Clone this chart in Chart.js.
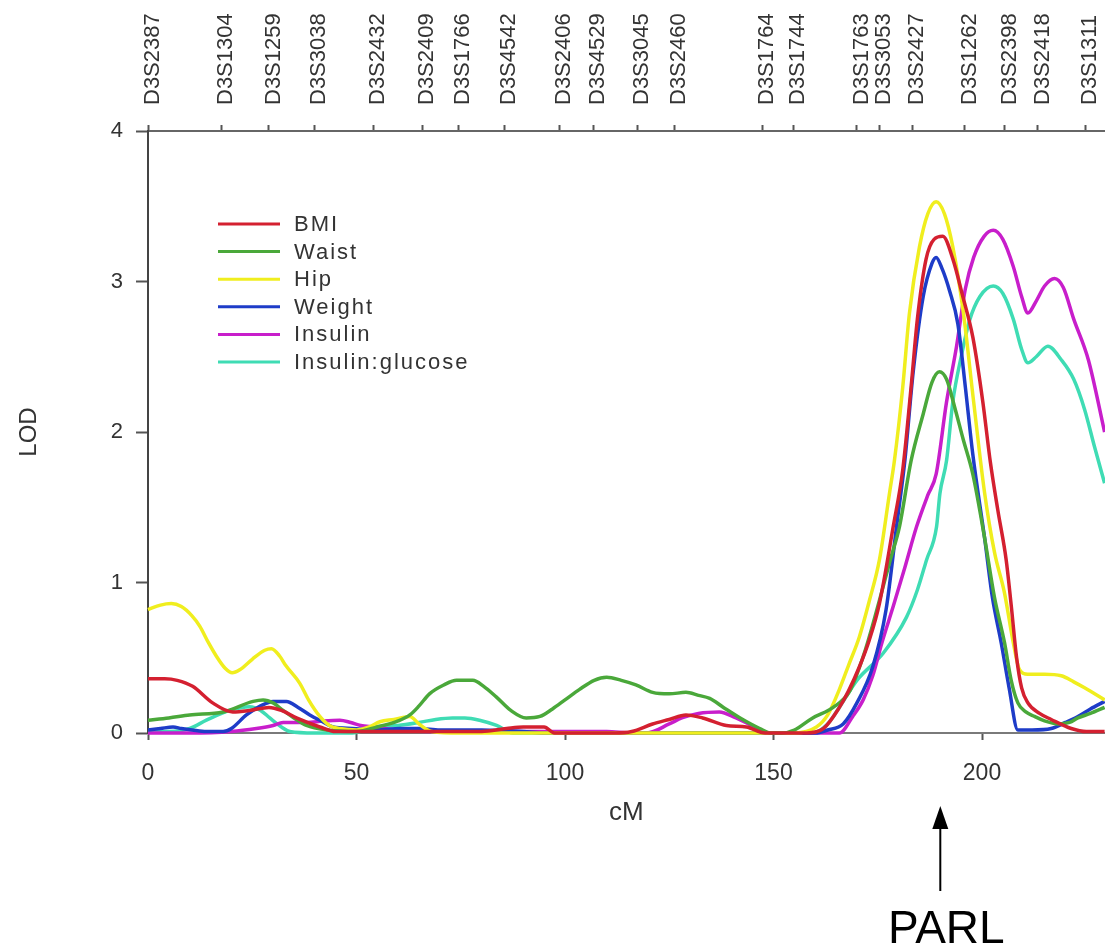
<!DOCTYPE html>
<html>
<head>
<meta charset="utf-8">
<script src="https://cdn.jsdelivr.net/npm/chart.js@4.4.0/dist/chart.umd.min.js"></script>
<style>
  html, body { margin: 0; padding: 0; background: #fff; }
</style>
</head>
<body>
<canvas id="lod" width="1105" height="947"></canvas>
<script>
// LOD scores along chromosome 3 (cM)
const bmiCM  = [0, 4, 7, 10.7, 15.5, 20.3, 24.4, 29, 32, 35.6, 41.2, 45, 60, 80, 86, 90, 95, 97.5, 112, 116, 121, 125, 129, 133, 138.7, 143.5, 148, 158, 162, 165.8, 168, 170.6, 173, 175.4, 178.7, 181, 183, 184.5, 186.6, 188.5, 190.6, 193, 195.4, 197.8, 200.2, 202, 203.8, 205.8, 207, 208.3, 209.5, 211, 213.8, 216.6, 221.4, 225, 229.4];
const bmiLOD = [0.36, 0.36, 0.35, 0.31, 0.2, 0.14, 0.15, 0.17, 0.15, 0.1, 0.04, 0.01, 0.01, 0.01, 0.03, 0.04, 0.04, 0, 0, 0.01, 0.06, 0.09, 0.12, 0.1, 0.05, 0.04, 0, 0, 0.03, 0.17, 0.28, 0.44, 0.62, 0.86, 1.37, 1.75, 2.3, 2.75, 3.15, 3.28, 3.3, 3.15, 2.9, 2.63, 2.2, 1.8, 1.48, 1.15, 0.85, 0.5, 0.3, 0.2, 0.13, 0.09, 0.03, 0.01, 0.01];

const waistCM  = [0, 5, 10, 18, 25.2, 27.6, 30, 32.4, 35, 38, 43, 50, 55, 60, 62.8, 65, 67.5, 71, 74, 77.9, 80.5, 83.5, 87, 90.7, 94, 97, 100, 103.5, 107, 110, 113.5, 117, 121, 125, 129, 132, 134.7, 138, 142, 146.7, 149.5, 152, 155, 159.4, 164.3, 168.3, 172, 175.4, 178, 180.2, 183, 185.9, 188, 189.8, 191.5, 193.4, 195.5, 197.8, 200.6, 203, 205.4, 207, 208.6, 210.5, 212.6, 215, 218.2, 221, 223, 226, 229.4];
const waistLOD = [0.085, 0.1, 0.12, 0.14, 0.21, 0.22, 0.2, 0.15, 0.1, 0.05, 0.02, 0.01, 0.04, 0.08, 0.12, 0.18, 0.26, 0.32, 0.35, 0.35, 0.31, 0.24, 0.15, 0.1, 0.11, 0.16, 0.22, 0.29, 0.35, 0.37, 0.35, 0.32, 0.27, 0.26, 0.27, 0.25, 0.23, 0.17, 0.1, 0.03, 0, 0, 0.02, 0.1, 0.17, 0.28, 0.55, 0.88, 1.15, 1.37, 1.81, 2.12, 2.33, 2.4, 2.35, 2.17, 1.95, 1.72, 1.3, 0.9, 0.6, 0.35, 0.2, 0.14, 0.11, 0.08, 0.06, 0.07, 0.1, 0.13, 0.17];

const hipCM  = [0, 3, 5.6, 8, 10.5, 12.4, 14.5, 16.4, 18.5, 20.2, 22, 25, 28, 29.6, 31.6, 33, 36.4, 38.5, 41.2, 43.5, 46, 50, 53, 55.6, 59, 62.8, 65, 68, 75, 150, 155, 160.3, 163, 165.8, 168, 170.6, 173, 175.4, 177.8, 179, 181, 182.6, 185, 187, 189, 191, 193, 195.5, 198, 200.6, 203, 205.4, 207.5, 209, 211, 215, 219, 222, 224.6, 229.4];
const hipLOD = [0.82, 0.85, 0.86, 0.84, 0.78, 0.71, 0.6, 0.51, 0.43, 0.4, 0.42, 0.49, 0.55, 0.56, 0.51, 0.45, 0.33, 0.22, 0.11, 0.05, 0.03, 0.02, 0.04, 0.075, 0.09, 0.11, 0.06, 0.01, 0, 0, 0, 0.04, 0.12, 0.29, 0.45, 0.64, 0.88, 1.15, 1.59, 1.81, 2.3, 2.79, 3.23, 3.45, 3.53, 3.45, 3.23, 2.8, 2.2, 1.6, 1.2, 0.93, 0.6, 0.42, 0.39, 0.39, 0.38, 0.34, 0.3, 0.22];

const weightCM  = [0, 3, 6, 8, 10.6, 14, 18, 20, 23.6, 27, 30, 33.2, 36, 38.8, 41.5, 44.4, 49, 55, 60.4, 65, 70, 80, 90, 95, 160, 163, 166.7, 170, 173.8, 177, 179.5, 181.5, 183.5, 185.9, 188, 189, 190.5, 192.2, 194.2, 196, 197.8, 200.6, 202.5, 204.6, 206.5, 208.6, 212, 216.6, 220, 223, 226, 229.4];
const weightLOD = [0.02, 0.03, 0.04, 0.03, 0.02, 0.01, 0.01, 0.03, 0.12, 0.18, 0.21, 0.21, 0.17, 0.12, 0.08, 0.04, 0.03, 0.02, 0.03, 0.03, 0.02, 0.02, 0.01, 0, 0, 0.02, 0.06, 0.2, 0.44, 0.82, 1.37, 1.81, 2.4, 2.9, 3.12, 3.16, 3.08, 2.94, 2.72, 2.3, 1.85, 1.3, 0.9, 0.6, 0.3, 0.02, 0.02, 0.03, 0.07, 0.11, 0.16, 0.21];

const insulinCM  = [0, 10, 20, 26, 30, 32.4, 38, 42, 46, 48.6, 51, 54, 60, 70, 80, 90, 100, 110, 116, 119.6, 125, 128, 132, 137, 141, 144, 146.7, 149, 160, 165.8, 169, 171.5, 173.8, 176, 178.7, 181.5, 184.3, 187, 189, 191.5, 193.9, 196, 198, 200.5, 202.7, 205, 207.5, 209.5, 211, 213, 215, 217.4, 219.5, 222, 225.5, 229.4];
const insulinLOD = [0, 0, 0.01, 0.03, 0.05, 0.07, 0.07, 0.08, 0.085, 0.07, 0.05, 0.04, 0.02, 0.01, 0.01, 0.01, 0.01, 0.01, 0, 0, 0.06, 0.1, 0.13, 0.14, 0.1, 0.06, 0.02, 0, 0, 0, 0.11, 0.22, 0.38, 0.6, 0.84, 1.1, 1.37, 1.58, 1.72, 2.2, 2.57, 2.95, 3.16, 3.3, 3.34, 3.28, 3.1, 2.9, 2.79, 2.87, 2.97, 3.02, 2.96, 2.75, 2.48, 2.0];

const ratioCM  = [0, 5, 10, 14, 19.6, 24.4, 27, 29.2, 32, 34, 40, 49, 54, 60, 65, 69, 73, 76, 79.5, 83.6, 87.5, 90, 159.4, 163, 166, 170, 176.3, 181.9, 184.5, 186.7, 189.1, 189.9, 191.5, 193, 195, 197, 199.5, 202.7, 205, 207.5, 209.5, 211, 213, 215.8, 219, 222, 224.6, 227, 229.4];
const ratioLOD = [0.01, 0.01, 0.03, 0.085, 0.15, 0.175, 0.15, 0.1, 0.04, 0.01, 0, 0, 0.04, 0.05, 0.07, 0.09, 0.1, 0.1, 0.085, 0.05, 0, 0, 0, 0.06, 0.18, 0.35, 0.53, 0.77, 0.95, 1.15, 1.37, 1.59, 1.81, 2.2, 2.5, 2.74, 2.9, 2.97, 2.92, 2.75, 2.55, 2.46, 2.5, 2.57, 2.48, 2.35, 2.15, 1.9, 1.66];

// microsatellite markers on the top axis
const markerNames = ['D3S2387', 'D3S1304', 'D3S1259', 'D3S3038', 'D3S2432', 'D3S2409', 'D3S1766', 'D3S4542', 'D3S2406', 'D3S4529', 'D3S3045', 'D3S2460', 'D3S1764', 'D3S1744', 'D3S1763', 'D3S3053', 'D3S2427', 'D3S1262', 'D3S2398', 'D3S2418', 'D3S1311'];
const markerCM    = [0, 17.6, 29, 40, 54, 65.8, 74.4, 85.5, 98.7, 106.9, 117.3, 126.3, 147.3, 154.8, 170, 175.3, 183.3, 195.9, 205.5, 213.4, 224.7];

const xTicks = [0, 50, 100, 150, 200];
const yTicks = [0, 1, 2, 3, 4];
const xMax = 229.4;
const parlCM = 190;

const FONT = '"Liberation Sans", Arial, Helvetica, sans-serif';

const series = [
    {label: 'BMI', color: '#d42030', cm: bmiCM, lod: bmiLOD},
    {label: 'Waist', color: '#4aa83a', cm: waistCM, lod: waistLOD},
    {label: 'Hip', color: '#f0ee1e', cm: hipCM, lod: hipLOD},
    {label: 'Weight', color: '#1e3cc8', cm: weightCM, lod: weightLOD},
    {label: 'Insulin', color: '#c81ecb', cm: insulinCM, lod: insulinLOD},
    {label: 'Insulin:glucose', color: '#3fdcb4', cm: ratioCM, lod: ratioLOD}
];

// legend inside the plot + PARL arrow below the axis
const extras = {
    id: 'extras',
    afterDraw(chart) {
        const ctx = chart.ctx;
        ctx.save();
        ctx.font = '22px ' + FONT;
        ctx.letterSpacing = '2px';
        ctx.textBaseline = 'middle';
        ctx.textAlign = 'left';
        chart.data.datasets.forEach((ds, i) => {
            const y = 224 + i * 27.6;
            ctx.strokeStyle = ds.borderColor;
            ctx.lineWidth = 3;
            ctx.beginPath();
            ctx.moveTo(218, y);
            ctx.lineTo(280, y);
            ctx.stroke();
            ctx.fillStyle = '#333';
            ctx.fillText(ds.label, 294, y + 1);
        });
        ctx.letterSpacing = '0px';

        const x = chart.scales.x.getPixelForValue(parlCM);
        ctx.strokeStyle = '#000';
        ctx.fillStyle = '#000';
        ctx.lineWidth = 2;
        ctx.beginPath();
        ctx.moveTo(x, 891);
        ctx.lineTo(x, 826);
        ctx.stroke();
        ctx.beginPath();
        ctx.moveTo(x, 806);
        ctx.lineTo(x - 8, 829);
        ctx.lineTo(x + 8, 829);
        ctx.closePath();
        ctx.fill();
        ctx.font = '46px ' + FONT;
        ctx.textAlign = 'center';
        ctx.textBaseline = 'alphabetic';
        ctx.fillText('PARL', x + 6, 943);
        ctx.restore();
    }
};

new Chart(document.getElementById('lod'), {
    type: 'line',
    data: {
        datasets: series.map(s => ({
            label: s.label,
            data: s.cm.map((v, i) => ({x: v, y: s.lod[i]})),
            borderColor: s.color,
            backgroundColor: s.color,
            borderWidth: 3.5,
            pointRadius: 0,
            fill: false,
            cubicInterpolationMode: 'monotone',
            clip: 3
        }))
    },
    options: {
        responsive: false,
        animation: false,
        events: [],
        layout: {padding: 0},
        plugins: {
            legend: {display: false},
            tooltip: {enabled: false}
        },
        scales: {
            x: {
                type: 'linear',
                position: 'bottom',
                min: 0,
                max: xMax,
                afterBuildTicks: s => { s.ticks = xTicks.map(v => ({value: v})); },
                afterFit: s => { s.height = 214; },
                grid: {drawOnChartArea: false, tickLength: 7, tickColor: '#555', tickWidth: 2},
                border: {color: '#7a7a7a', width: 2},
                ticks: {padding: 20, color: '#333', font: {family: FONT, size: 23}, maxRotation: 0},
                title: {display: true, text: 'cM', color: '#333', font: {family: FONT, size: 26}, padding: {top: 0, bottom: 119}}
            },
            x2: {
                type: 'linear',
                position: 'top',
                min: 0,
                max: xMax,
                afterBuildTicks: s => { s.ticks = markerCM.map(v => ({value: v})); },
                afterFit: s => { s.height = 131; },
                grid: {drawOnChartArea: false, tickLength: 6, tickColor: '#555', tickWidth: 2},
                border: {color: '#666', width: 2},
                ticks: {
                    autoSkip: false,
                    minRotation: 90,
                    maxRotation: 90,
                    padding: 20,
                    labelOffset: 31,
                    color: '#333',
                    font: {family: FONT, size: 22},
                    callback: (v, i) => markerNames[i]
                }
            },
            y: {
                type: 'linear',
                min: 0,
                max: 4,
                afterBuildTicks: s => { s.ticks = yTicks.map(v => ({value: v})); },
                afterFit: s => { s.width = 148; },
                grid: {drawOnChartArea: false, tickLength: 12, tickColor: '#555', tickWidth: 2},
                border: {color: '#444', width: 2},
                ticks: {padding: 13, color: '#333', font: {family: FONT, size: 22}},
                title: {display: true, text: 'LOD', color: '#333', font: {family: FONT, size: 24}, padding: {top: 15, bottom: 0}}
            }
        }
    },
    plugins: [extras]
});
</script>
</body>
</html>
